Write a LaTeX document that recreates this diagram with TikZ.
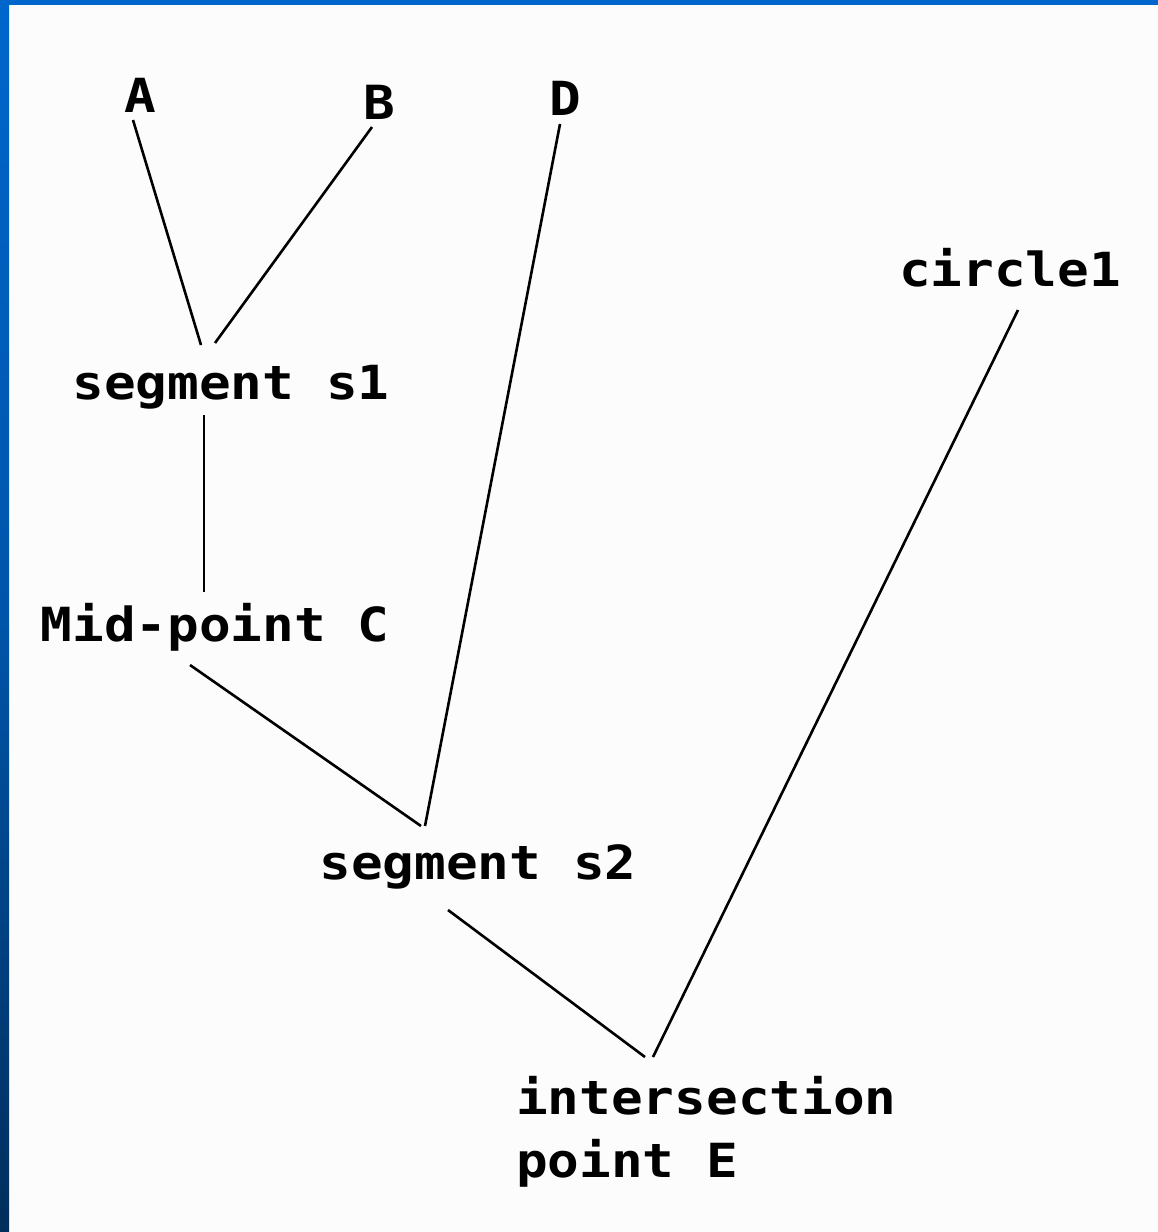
\documentclass[tikz,border=0pt]{standalone}
\usepackage{fontspec}
\setmonofont[FakeStretch=1.12]{DejaVu Sans Mono}
\begin{document}
\begin{tikzpicture}[x=1pt,y=-1pt,
  lbl/.style={font=\ttfamily\bfseries\fontsize{47}{63}\selectfont, inner sep=0pt, text=black},
  link/.style={line width=2.6pt, black}]
\useasboundingbox (0,0) rectangle (1158,1232);
\fill[white!99!black] (0,0) rectangle (1158,1232);
% frame: top band and shaded left band
\fill[color={rgb,255:red,0;green,102;blue,204}] (0,0) rectangle (1158,5);
\shade[top color={rgb,255:red,0;green,102;blue,204}, bottom color={rgb,255:red,0;green,46;blue,92}, middle color={rgb,255:red,0;green,85;blue,170}] (0,0) rectangle (9,1232);

% labels
\node[lbl] (A) at (140,95) {A};
\node[lbl] (B) at (379,102) {B};
\node[lbl] (D) at (565,98) {D};
\node[lbl] (circ) at (1010,268) {circle1};
\node[lbl] (s1) at (231,387) {segment s1};
\node[lbl] (C) at (215,627) {Mid-point C};
\node[lbl] (s2) at (478,867) {segment s2};
\node[lbl, align=left, anchor=north west] (E) at (516,1076) {intersection\\point E};

% connector ends
\coordinate (A-low) at (133,120);
\coordinate (B-low) at (372,127);
\coordinate (D-low) at (560,124);
\coordinate (circ-low) at (1018,310);
\coordinate (s1-topA) at (201,345);
\coordinate (s1-topB) at (215,343);
\coordinate (s1-low) at (204,415);
\coordinate (C-top) at (204,592);
\coordinate (C-low) at (190,665);
\coordinate (s2-topC) at (421,826);
\coordinate (s2-topD) at (425,826);
\coordinate (s2-low) at (448,910);
\coordinate (E-topS) at (645,1057);
\coordinate (E-topC) at (653,1057);

% connectors
\draw[link] (A-low) -- (s1-topA);
\draw[link] (B-low) -- (s1-topB);
\draw[link] (s1-low) -- (C-top);
\draw[link] (C-low) -- (s2-topC);
\draw[link] (D-low) -- (s2-topD);
\draw[link] (s2-low) -- (E-topS);
\draw[link] (circ-low) -- (E-topC);
\end{tikzpicture}
\end{document}
